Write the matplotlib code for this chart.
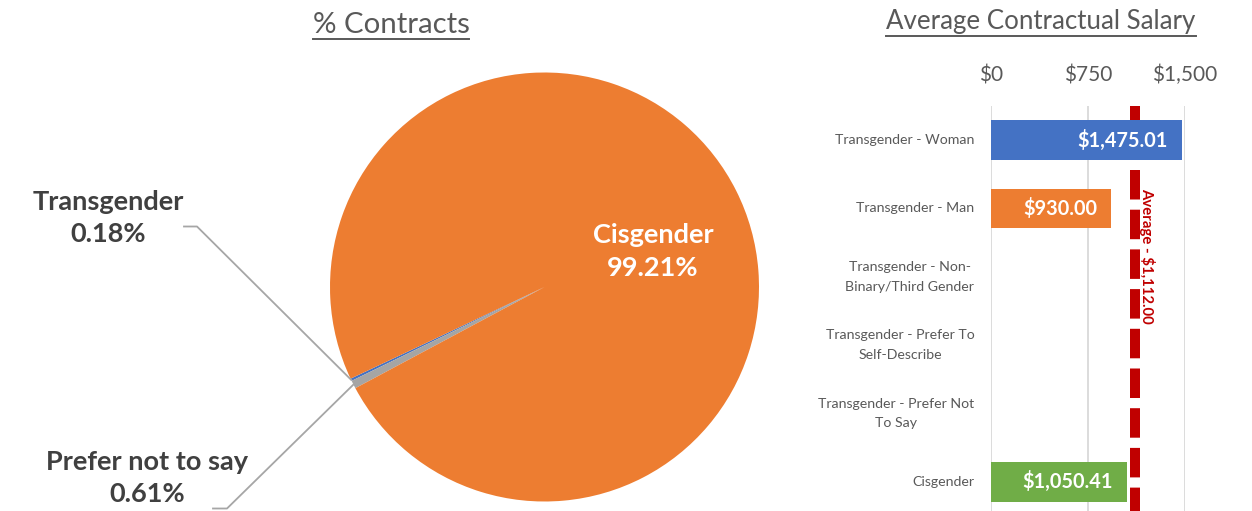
import matplotlib
matplotlib.use("Agg")
import numpy as np
import matplotlib.pyplot as plt
from matplotlib.lines import Line2D

plt.rcParams['font.family'] = ['Lato', 'DejaVu Sans']

# pie data (counter-clockwise order starting at start_angle)
pie_labels = ['Transgender', 'Prefer not to say', 'Cisgender']
pie_values = [0.18, 0.61, 99.21]
pie_colors = ['#4472C4', '#A5A5A5', '#ED7D31']

# bar data
bar_cats = ['Transgender - Woman', 'Transgender - Man',
            'Transgender - Non-\nBinary/Third Gender',
            'Transgender - Prefer To\nSelf-Describe',
            'Transgender - Prefer Not\nTo Say', 'Cisgender']
bar_values = [1475.01, 930.00, 0, 0, 0, 1050.41]
bar_colors = ['#4472C4', '#ED7D31', '#A5A5A5', '#FFC000', '#5B9BD5', '#70AD47']
avg_salary = 1112.00
x_ticks = [0, 750, 1500]
x_ticklabels = ['$0', '$750', '$1,500']

W, H = 1252, 511
fig = plt.figure(figsize=(W / 100, H / 100), dpi=100)
grey = '#595959'
dark = '#404040'


def fx(x):
    return x / W


def fy(y):
    return 1 - y / H


# ---- pie ----
cx, cy, r = 544.5, 287, 214.5
ax_p = fig.add_axes([fx(cx - r), fy(cy + r), 2 * r / W, 2 * r / H])
start_angle = 205.3
ax_p.pie(pie_values, colors=pie_colors, startangle=start_angle,
         counterclock=True, radius=1, wedgeprops=dict(linewidth=0))
ax_p.set_xlim(-1, 1)
ax_p.set_ylim(-1, 1)
ax_p.set_aspect('equal')
ax_p.axis('off')

# angles of the small slices (for leader lines)
cum = np.cumsum([0] + pie_values)
mid = start_angle + (cum[:-1] + cum[1:]) / 2 * 3.6


def edge_px(angle):
    a = np.deg2rad(angle)
    return cx + r * np.cos(a), cy - r * np.sin(a)


lc = '#A6A6A6'
tx, ty = edge_px(mid[0])
fig.add_artist(Line2D([fx(184), fx(197), fx(tx)], [fy(226.5), fy(226.5), fy(ty)],
                      color=lc, lw=1.3))
px_, py_ = edge_px(mid[1])
fig.add_artist(Line2D([fx(px_), fx(227), fx(213)], [fy(py_), fy(508.5), fy(508.5)],
                      color=lc, lw=1.3))

lab_fs = 19.5
fig.text(fx(108), fy(218), f'{pie_labels[0]}\n{pie_values[0]:.2f}%', ha='center',
         va='center', fontsize=lab_fs, fontweight='bold', color=dark, linespacing=1.45)
fig.text(fx(147), fy(478), f'{pie_labels[1]}\n{pie_values[1]:.2f}%', ha='center',
         va='center', fontsize=lab_fs, fontweight='bold', color=dark, linespacing=1.35)
fig.text(fx(653), fy(251), f'{pie_labels[2]}\n{pie_values[2]:.2f}%', ha='center',
         va='center', fontsize=lab_fs, fontweight='bold', color='white', linespacing=1.45)

# ---- bar chart ----
top, bot = 106, 516
ax_b = fig.add_axes([fx(991), fy(bot), (1185 - 991) / W, (bot - top) / H])
y = np.arange(len(bar_cats))
ax_b.barh(y, bar_values, height=0.58, color=bar_colors, zorder=3)
ax_b.set_xlim(0, 1500)
ax_b.set_ylim(len(bar_cats) - 0.5, -0.5)
ax_b.set_xticks(x_ticks)
ax_b.set_xticklabels(x_ticklabels, fontsize=15, color=grey)
ax_b.xaxis.tick_top()
ax_b.tick_params(axis='x', length=0, pad=15)
ax_b.set_yticks(y)
ax_b.set_yticklabels([])
ax_b.tick_params(axis='y', length=0)
# category labels drawn by hand so line spacing can be set
for yi, cat in zip(y, bar_cats):
    ax_b.annotate(cat, xy=(0, yi), xytext=(-12, 0), textcoords='offset points',
                  ha='right', va='center', multialignment='center',
                  fontsize=10.2, color=grey, linespacing=1.75, annotation_clip=False)
for s in ax_b.spines.values():
    s.set_visible(False)
ax_b.grid(axis='x', color='#D9D9D9', lw=1.3, zorder=0)
ax_b.set_axisbelow(True)

ax_b.plot([avg_salary, avg_salary], [-0.5, len(bar_cats) - 0.5], color='#C00000',
          lw=7.2, linestyle=(1.54, (2.95, 1.02)), zorder=2, clip_on=False,
          solid_capstyle='butt', dash_capstyle='butt')
ax_b.annotate(f'Average - ${avg_salary:,.2f}', xy=(avg_salary, 1.7), xytext=(9, 0),
              textcoords='offset points', rotation=-90, ha='center', va='center',
              fontsize=10.7, fontweight='bold', color='#C00000')

for yi, v in zip(y, bar_values):
    if v > 0:
        ax_b.annotate(f'${v:,.2f}', xy=(v, yi), xytext=(-10, 0),
                      textcoords='offset points', ha='right', va='center',
                      fontsize=14.3, fontweight='bold', color='white', zorder=4)

# ---- titles (underlined) ----
titles = [fig.text(fx(391), fy(25), '% Contracts', ha='center', va='center',
                   fontsize=21.2, color=grey),
          fig.text(fx(1041), fy(22), 'Average Contractual Salary', ha='center',
                   va='center', fontsize=18.6, color=grey)]
fig.canvas.draw()
inv = fig.transFigure.inverted()
for t in titles:
    bb = t.get_window_extent().transformed(inv)
    yline = bb.y0 - 1.5 / H
    fig.add_artist(Line2D([bb.x0, bb.x1], [yline, yline], color=grey, lw=1.4))

fig.savefig('out.png', dpi=100)
